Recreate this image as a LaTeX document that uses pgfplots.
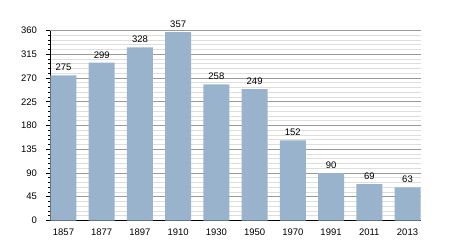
\documentclass[border=0pt]{standalone}
\usepackage{fontspec}
\setmainfont{Liberation Sans}
\usepackage{pgfplots}
\pgfplotsset{compat=1.18}
\definecolor{barc}{HTML}{9AB3CD}
\begin{document}
\begin{tikzpicture}[x=1pt,y=1pt]
\path[use as bounding box] (-50.5,-29.5) rectangle (399.5,220.5);
\begin{axis}[
  at={(0,0)}, anchor=south west,
  scale only axis, width=370pt, height=190pt,
  xmin=-0.34, xmax=9.34, ymin=0, ymax=360,
  axis lines*=left,
  axis line style={black, line width=0.8pt},
  ytick={0,45,...,360}, minor y tick num=4,
  ymajorgrids, yminorgrids,
  major grid style={draw=black!40, line width=0.6pt},
  minor grid style={draw=black!13, line width=0.6pt},
  tick align=outside,
  major tick length=4pt, minor tick length=2pt,
  tick style={black, line width=0.6pt},
  xtick=data,
  xticklabels={1857,1877,1897,1910,1930,1950,1970,1991,2011,2013},
  x tick style={draw=none},
  ybar, bar width=26pt,
  /pgf/number format/assume math mode=true,
  ticklabel style={font=\fontsize{9.5}{11}\selectfont},
  yticklabel style={xshift=-6pt},
  xticklabel style={yshift=-0.5pt},
  nodes near coords,
  every node near coord/.append style={font=\fontsize{9.5}{11}\selectfont, black, yshift=1pt},
]
\addplot[fill=barc, draw=none] coordinates {
(0,275) (1,299) (2,328) (3,357) (4,258) (5,249) (6,152) (7,90) (8,69) (9,63)
};
\end{axis}
\end{tikzpicture}
\end{document}
